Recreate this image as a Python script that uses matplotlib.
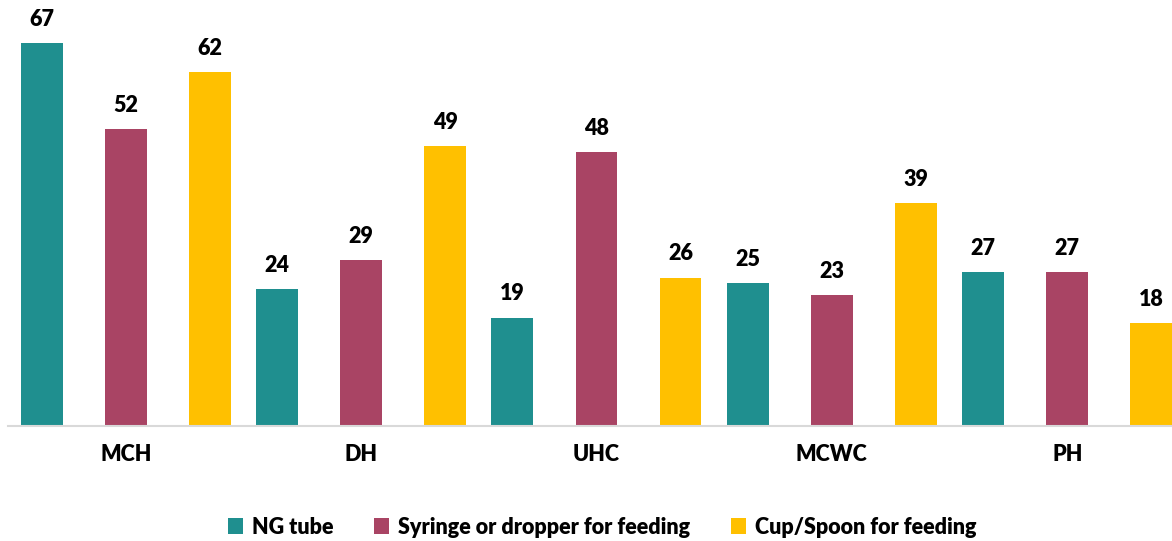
import numpy as np
import matplotlib.pyplot as plt
from matplotlib.patches import Patch

plt.rcParams['font.family'] = ['Lato', 'DejaVu Sans']

facilities = ['MCH', 'DH', 'UHC', 'MCWC', 'PH']
series = ['NG tube', 'Syringe or dropper for feeding', 'Cup/Spoon for feeding']
ng_tube = [67, 24, 19, 25, 27]
syringe = [52, 29, 48, 23, 27]
cup_spoon = [62, 49, 26, 39, 18]
colors = ['#1F8F8F', '#A94464', '#FFC000']

fig = plt.figure(figsize=(11.72, 5.41), dpi=100)
ax = fig.add_axes([8 / 1172, 1 - 426 / 541, 1 - 8 / 1172, 426 / 541])

x = np.arange(len(facilities))
width = 0.178
step = 0.357
for i, (vals, col) in enumerate(zip([ng_tube, syringe, cup_spoon], colors)):
    pos = x + (i - 1) * step
    ax.bar(pos, vals, width=width, color=col, zorder=2)
    for p, v in zip(pos, vals):
        ax.annotate(str(v), (p, v), xytext=(0, 17), textcoords='offset points',
                    ha='center', va='center', fontsize=15.5, fontweight='heavy')

ax.set_xlim(-0.5, 4.445)
ax.set_ylim(0, 74.6)
ax.set_xticks(x)
ax.set_xticklabels(facilities, fontsize=15.5, fontweight='heavy')
ax.tick_params(axis='x', length=0, pad=13)
ax.set_yticks([])
for s in ['top', 'right', 'left']:
    ax.spines[s].set_visible(False)
ax.spines['bottom'].set_color('#D9D9D9')
ax.spines['bottom'].set_linewidth(1.5)

handles = [Patch(facecolor=c, label=l) for c, l in zip(colors, series)]
fig.legend(handles=handles, loc='center', bbox_to_anchor=(0.5137, 1 - 527 / 541), ncol=3,
           frameon=False, prop={'size': 15.5, 'weight': 'heavy'},
           handlelength=0.7, handleheight=0.7, handletextpad=0.4, columnspacing=1.9)

fig.savefig('out.png', dpi=100)
